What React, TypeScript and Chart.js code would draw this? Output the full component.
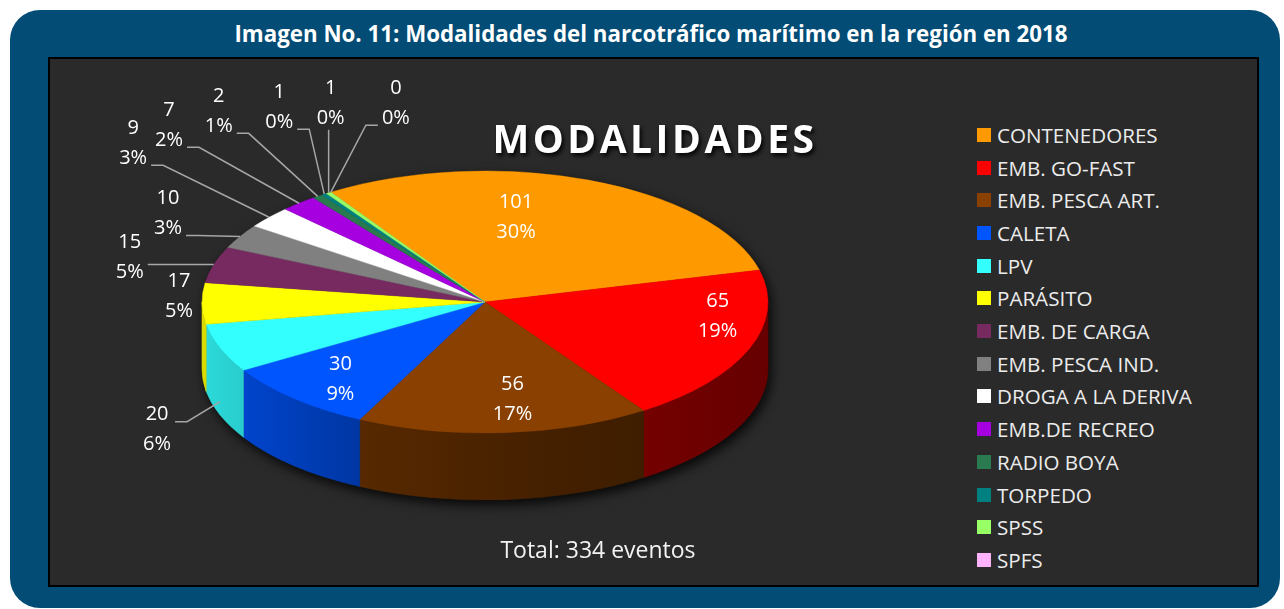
import React, { useEffect, useRef } from "react";
import { Chart, registerables } from "chart.js";

Chart.register(...registerables);

// ---------- data ----------
const categories = [
  "CONTENEDORES",
  "EMB. GO-FAST",
  "EMB. PESCA ART.",
  "CALETA",
  "LPV",
  "PARÁSITO",
  "EMB. DE CARGA",
  "EMB. PESCA IND.",
  "DROGA A LA DERIVA",
  "EMB.DE RECREO",
  "RADIO BOYA",
  "TORPEDO",
  "SPSS",
  "SPFS",
];
const values = [101, 65, 56, 30, 20, 17, 15, 10, 9, 7, 2, 1, 1, 0];
const percentLabels = ["30%", "19%", "17%", "9%", "6%", "5%", "5%", "3%", "3%", "2%", "1%", "0%", "0%", "0%"];

// ---------- styles ----------
const sliceColors = [
  "#FF9900",
  "#FF0000",
  "#8A4000",
  "#0055FF",
  "#33FFFF",
  "#FFFF00",
  "#762A60",
  "#808080",
  "#FFFFFF",
  "#A600E0",
  "#2A7A50",
  "#008080",
  "#99FF66",
  "#FFB3FF",
];
// label offsets (px) relative to each slice's label anchor
const labelShift: [number, number][] = [
  [-31, -12],
  [74, -14],
  [16, 19],
  [-30, 19],
  [-63, 28],
  [-23, -7],
  [-84, -7],
  [-72, -23],
  [-136, -74],
  [-130, -78],
  [-99, -85],
  [-45, -87],
  [2, -90],
  [65, -89],
];

const TITLE = "Imagen No. 11: Modalidades del narcotráfico marítimo en la región en 2018";
const CHART_TITLE = "MODALIDADES";
const TOTAL_TEXT = "Total: 334 eventos";

const FONT = '"Open Sans", "Noto Sans", "DejaVu Sans", sans-serif';
const TILT = 131 / 283;
const DEPTH = 67;

function shade(hex: string, f: number) {
  const n = parseInt(hex.slice(1), 16);
  const r = Math.round(((n >> 16) & 255) * f);
  const g = Math.round(((n >> 8) & 255) * f);
  const b = Math.round((n & 255) * f);
  return `rgb(${r},${g},${b})`;
}

const tiltPlugin = {
  id: "tilt3d",
  beforeDatasetsDraw(chart: any) {
    const meta = chart.getDatasetMeta(0);
    const arcs = meta.data;
    chart.$tiltSaved = false;
    if (!arcs.length) return;
    const p0 = arcs[0].getProps(["x", "y", "outerRadius"], true);
    const cx = p0.x, cy = p0.y, R = p0.outerRadius;
    const ry = R * TILT;
    const ctx = chart.ctx as CanvasRenderingContext2D;

    // shadow under the pie body
    ctx.save();
    ctx.beginPath();
    ctx.ellipse(cx, cy, R, ry, 0, Math.PI, 2 * Math.PI);
    ctx.lineTo(cx + R, cy + DEPTH);
    ctx.ellipse(cx, cy + DEPTH, R, ry, 0, 0, Math.PI);
    ctx.closePath();
    ctx.shadowColor = "rgba(0,0,0,0.85)";
    ctx.shadowBlur = 12;
    ctx.shadowOffsetX = 3;
    ctx.shadowOffsetY = 5;
    ctx.fillStyle = "#151515";
    ctx.fill();
    ctx.restore();

    // side walls
    arcs.forEach((arc: any, i: number) => {
      const { startAngle, endAngle } = arc.getProps(["startAngle", "endAngle"], true);
      if (endAngle - startAngle <= 0) return;
      for (let k = -1; k <= 1; k++) {
        const off = k * 2 * Math.PI;
        const a = Math.max(startAngle, off);
        const b = Math.min(endAngle, off + Math.PI);
        if (b <= a) continue;
        const c = sliceColors[i];
        const g = ctx.createLinearGradient(cx - R, 0, cx + R, 0);
        g.addColorStop(0, shade(c, 0.86));
        g.addColorStop(0.3, shade(c, 0.62));
        g.addColorStop(0.6, shade(c, 0.5));
        g.addColorStop(1, shade(c, 0.4));
        ctx.beginPath();
        ctx.ellipse(cx, cy, R, ry, 0, a, b);
        ctx.ellipse(cx, cy + DEPTH, R, ry, 0, b, a, true);
        ctx.closePath();
        ctx.fillStyle = g;
        ctx.fill();
        ctx.strokeStyle = g;
        ctx.lineWidth = 0.6;
        ctx.stroke();
      }
    });

    // squash the top face drawn by Chart.js
    ctx.save();
    ctx.translate(cx, cy);
    ctx.scale(1, TILT);
    ctx.translate(-cx, -cy);
    chart.$tiltSaved = true;
  },
  afterDatasetsDraw(chart: any) {
    const ctx = chart.ctx as CanvasRenderingContext2D;
    if (chart.$tiltSaved) ctx.restore();
    const arcs = chart.getDatasetMeta(0).data;
    const total = values.reduce((s, v) => s + v, 0);
    ctx.save();
    ctx.font = `20px ${FONT}`;
    ctx.textAlign = "center";
    ctx.textBaseline = "middle";
    arcs.forEach((arc: any, i: number) => {
      const { startAngle, endAngle, x, y, outerRadius } = arc.getProps(
        ["startAngle", "endAngle", "x", "y", "outerRadius"],
        true
      );
      const R = outerRadius;
      const mid = (startAngle + endAngle) / 2;
      const c = Math.cos(mid), s = Math.sin(mid);
      const inside = values[i] / total >= 0.08;
      let ax: number, ay: number;
      if (inside) {
        ax = x + 0.6 * R * c;
        ay = y + 0.6 * R * TILT * s;
      } else {
        ax = x + R * c;
        ay = y + R * TILT * s + (s > 0.2 ? DEPTH * 0.8 : 0);
      }
      const lx = ax + labelShift[i][0];
      const ly = ay + labelShift[i][1];
      const t1 = String(values[i]);
      const t2 = percentLabels[i];
      if (!inside) {
        const dist = Math.hypot(lx - ax, ly - ay);
        if (dist > 40) {
          ctx.strokeStyle = "#a6a6a6";
          ctx.lineWidth = 1.5;
          ctx.beginPath();
          ctx.moveTo(ax, ay);
          if (Math.abs(lx - ax) < 10) {
            ctx.lineTo(ax, ly + 27);
          } else {
            const side = ax > lx ? 1 : -1;
            const halfW = Math.max(ctx.measureText(t1).width, ctx.measureText(t2).width) / 2;
            const attX = lx + side * (halfW + 4);
            const attY = Math.min(Math.max(ay, ly - 8), ly + 22);
            ctx.lineTo(attX + side * 12, attY);
            ctx.lineTo(attX, attY);
          }
          ctx.stroke();
        }
      }
      ctx.fillStyle = "#ffffff";
      ctx.fillText(t1, lx, ly - 15);
      ctx.fillText(t2, lx, ly + 15);
    });
    ctx.restore();
  },
};

export default function App() {
  const ref = useRef<HTMLCanvasElement>(null);
  useEffect(() => {
    const chart = new Chart(ref.current as HTMLCanvasElement, {
      type: "pie",
      data: {
        labels: categories,
        datasets: [
          {
            data: values,
            backgroundColor: sliceColors,
            borderColor: sliceColors,
            borderWidth: 0.6,
            radius: 283,
            rotation: -33,
            clip: false,
          } as any,
        ],
      },
      options: {
        responsive: false,
        animation: false,
        rotation: -33,
        layout: { padding: 0 },
        events: [],
        plugins: {
          legend: { display: false },
          tooltip: { enabled: false },
          title: { display: false },
        },
      } as any,
      plugins: [tiltPlugin as any],
    });
    return () => chart.destroy();
  }, []);

  const abs: React.CSSProperties = { position: "absolute" };
  return (
    <div style={{ ...abs, left: 0, top: 0, width: 1284, height: 609, overflow: "hidden", fontFamily: FONT }}>
      <div style={{ ...abs, left: 10, top: 10, width: 1270, height: 598, background: "#024C75", borderRadius: 30 }} />
      <div
        style={{
          ...abs,
          left: 651,
          top: 23,
          transform: "translateX(-50%)",
          whiteSpace: "nowrap",
          color: "#fff",
          fontWeight: 700,
          fontSize: 22.3,
          lineHeight: "22.3px",
        }}
      >
        {TITLE}
      </div>
      <div
        style={{
          ...abs,
          left: 48,
          top: 57,
          width: 1211,
          height: 530,
          background: "#2A2A2A",
          border: "2px solid #000",
          boxSizing: "border-box",
        }}
      />
      <canvas ref={ref} width={970} height={604} style={{ ...abs, left: 0, top: 0 }} />
      <div
        style={{
          ...abs,
          left: 655,
          top: 118,
          transform: "translateX(-50%)",
          whiteSpace: "nowrap",
          color: "#fff",
          fontWeight: 700,
          fontSize: 39,
          lineHeight: "39px",
          letterSpacing: 3.5,
          textShadow: "2px 3px 4px rgba(0,0,0,0.9)",
        }}
      >
        {CHART_TITLE}
      </div>
      <div
        style={{
          ...abs,
          left: 598,
          top: 537.5,
          transform: "translateX(-50%)",
          whiteSpace: "nowrap",
          color: "#f2f2f2",
          fontSize: 23,
          lineHeight: "23px",
        }}
      >
        {TOTAL_TEXT}
      </div>
      <div style={{ ...abs, left: 977, top: 118.65 }}>
        {categories.map((c, i) => (
          <div key={c} style={{ height: 32.7, display: "flex", alignItems: "center" }}>
            <span style={{ width: 14, height: 14, background: sliceColors[i], marginRight: 6, flex: "none" }} />
            <span style={{ fontSize: 20.6, lineHeight: "20px", color: "#ececec", whiteSpace: "nowrap" }}>{c}</span>
          </div>
        ))}
      </div>
    </div>
  );
}
